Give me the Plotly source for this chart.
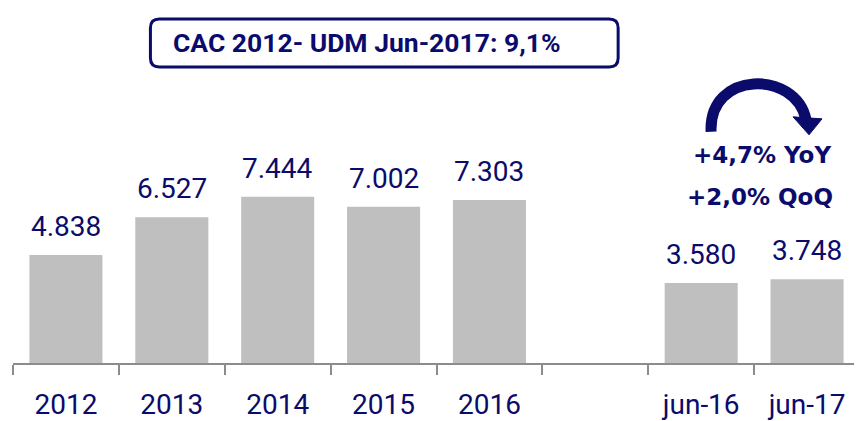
import plotly.graph_objects as go

categories = ["2012", "2013", "2014", "2015", "2016", " ", "jun-16", "jun-17"]
values = [4838, 6527, 7444, 7002, 7303, None, 3580, 3748]
value_labels = ["4.838", "6.527", "7.444", "7.002", "7.303", "", "3.580", "3.748"]
title_text = "CAC 2012- UDM Jun-2017: 9,1%"
growth_lines = ["+4,7% YoY", "+2,0% QoQ"]

NAVY = "#0b0b6b"
GRAY = "#bfbfbf"
OFF = 8  # page body margin
W, H = 862 - OFF, 421 - OFF
# plot area in page pixels
PX0, PX1, PY0, PY1 = 12.5, 860, OFF, 363.5
ML, MR = PX0 - OFF, W - (PX1 - OFF)
MT, MB = PY0 - OFF, H - (PY1 - OFF)
PW, PH = PX1 - PX0, PY1 - PY0
YMAX = PH / 0.02235


def px(x):
    return (x - PX0) / PW


def py(y):
    return (PY1 - y) / PH


fig = go.Figure()
fig.add_trace(go.Bar(
    x=categories, y=values, marker=dict(color=GRAY, line=dict(width=0)),
    width=0.69, hoverinfo="skip", cliponaxis=False,
))

annotations = []
for i, (v, lab) in enumerate(zip(values, value_labels)):
    if v is None:
        continue
    annotations.append(dict(
        x=i, y=v, xref="x", yref="y", text=lab, showarrow=False,
        yanchor="bottom", yshift=10,
        font=dict(family="Roboto", size=28, color=NAVY),
    ))

# title box text
annotations.append(dict(
    x=px(171), y=py(43), xref="paper", yref="paper", text="<b>" + title_text + "</b>",
    showarrow=False, xanchor="left", yanchor="middle",
    font=dict(family="Roboto", size=26.5, color=NAVY),
))
for i, t in enumerate(growth_lines):
    annotations.append(dict(
        x=px(762 - 2 * i), y=py(155 + 42 * i), xref="paper", yref="paper",
        text="<b>" + t + "</b>", showarrow=False, xanchor="center", yanchor="middle",
        font=dict(family="DejaVu Sans", size=23, color=NAVY),
    ))


def rounded_rect(x0, y0, x1, y1, r):
    pts = [
        f"M {px(x0 + r)},{py(y0)}",
        f"L {px(x1 - r)},{py(y0)}",
        f"Q {px(x1)},{py(y0)} {px(x1)},{py(y0 + r)}",
        f"L {px(x1)},{py(y1 - r)}",
        f"Q {px(x1)},{py(y1)} {px(x1 - r)},{py(y1)}",
        f"L {px(x0 + r)},{py(y1)}",
        f"Q {px(x0)},{py(y1)} {px(x0)},{py(y1 - r)}",
        f"L {px(x0)},{py(y0 + r)}",
        f"Q {px(x0)},{py(y0)} {px(x0 + r)},{py(y0)}",
        "Z",
    ]
    return " ".join(pts)


shapes = [
    dict(type="path", xref="paper", yref="paper",
         path=rounded_rect(150, 19, 618, 67, 9),
         line=dict(color=NAVY, width=3), fillcolor="rgba(0,0,0,0)"),
    dict(type="path", xref="paper", yref="paper",
         path=f"M {px(711)},{py(132)} C {px(708)},{py(70)} {px(796)},{py(70)} {px(806)},{py(120)}",
         line=dict(color=NAVY, width=11), fillcolor="rgba(0,0,0,0)"),
    dict(type="path", xref="paper", yref="paper",
         path=f"M {px(793)},{py(117)} L {px(822)},{py(119)} L {px(809)},{py(135)} Z",
         line=dict(color=NAVY, width=1), fillcolor=NAVY),
]

fig.update_layout(
    width=W, height=H,
    margin=dict(l=ML, r=MR, t=MT, b=MB, pad=0, autoexpand=False),
    plot_bgcolor="white", paper_bgcolor="white",
    showlegend=False,
    annotations=annotations,
    shapes=shapes,
    xaxis=dict(
        type="category", categoryorder="array", categoryarray=categories,
        range=[-0.5, len(categories) - 0.5], automargin=False,
        tickson="boundaries", ticks="outside", ticklen=10, tickwidth=1.5,
        tickcolor="#8c8c8c", showline=True, linecolor="#8c8c8c", linewidth=1.5,
        showgrid=False, zeroline=False, tickangle=0, ticklabelstandoff=16,
        tickfont=dict(family="Roboto", size=28, color=NAVY),
        fixedrange=True,
    ),
    yaxis=dict(range=[0, YMAX], visible=False, showgrid=False, zeroline=False,
               automargin=False),
)

fig.write_html("out.html")
